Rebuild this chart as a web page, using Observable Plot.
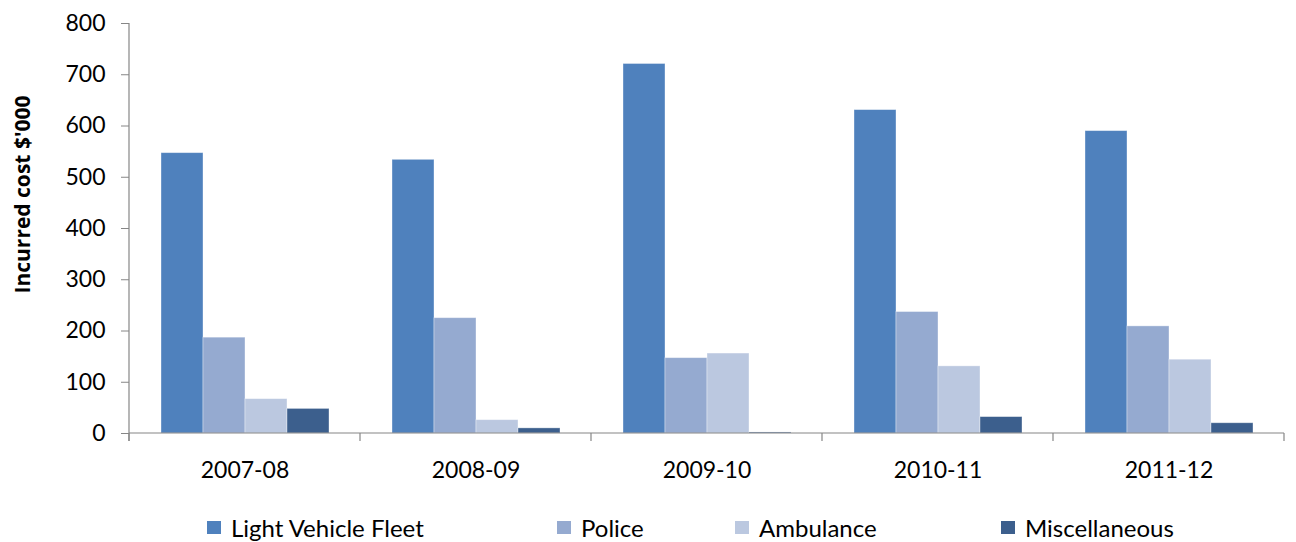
<!DOCTYPE html>
<html>
<head>
<meta charset="utf-8">
<script src="https://cdn.jsdelivr.net/npm/d3@7"></script>
<script src="https://cdn.jsdelivr.net/npm/@observablehq/plot@0.6"></script>
<style>
  html, body { margin: 0; padding: 0; background: #fff; }
  #wrap { position: relative; width: 1296px; height: 542px; font-family: Lato, "Open Sans", sans-serif; }
  #legend {
    position: absolute; left: 207px; top: 513px;
    display: flex; align-items: center; font-size: 24px; color: #000;
  }
  #legend .item { display: flex; align-items: center; white-space: nowrap; }
  #legend .swatch { width: 14px; height: 13px; margin-right: 10px; flex: none; }
</style>
</head>
<body>
<div id="wrap">
  <div id="chart"></div>
  <div id="legend"></div>
</div>
<script>
// Incurred cost ($'000) by fleet type and financial year
const years = ["2007-08", "2008-09", "2009-10", "2010-11", "2011-12"];
const series = ["Light Vehicle Fleet", "Police", "Ambulance", "Miscellaneous"];
const lightVehicleFleet = [547, 534, 721, 631, 590];
const police = [187, 225, 147, 237, 209];
const ambulance = [67, 26, 156, 131, 144];
const miscellaneous = [48, 10, 2, 32, 20];
const seriesColors = ["#4F81BD", "#95AAD0", "#BBC8E0", "#3C5F8D"];
const yTicks = [0, 100, 200, 300, 400, 500, 600, 700, 800];
const yLabel = "Incurred cost $'000";

const valuesBySeries = [lightVehicleFleet, police, ambulance, miscellaneous];
const rows = [];
years.forEach((year, i) => {
  series.forEach((s, j) => rows.push({year, series: s, value: valuesBySeries[j][i]}));
});

const axisColor = "#868686";
const legendSlots = [350, 178, 266]; // width of each legend entry's slot

// Baseline, y-axis line and the category divider ticks, drawn once over the whole frame
function frameLines(index, scales, values, dims) {
  const {fx, y} = scales;
  const left = dims.marginLeft;
  const right = dims.width - dims.marginRight;
  const y0 = y(0);
  const yTop = y(d3.max(yTicks));
  const tickLen = 8;
  const edges = years.map(d => fx(d)).concat(right);
  const g = d3.create("svg:g").attr("stroke", axisColor).attr("stroke-width", 1.2).attr("fill", "none");
  g.append("line").attr("x1", left).attr("x2", right).attr("y1", y0).attr("y2", y0);
  g.append("line").attr("x1", left).attr("x2", left).attr("y1", yTop).attr("y2", y0 + tickLen);
  for (const x of edges) {
    g.append("line").attr("x1", x).attr("x2", x).attr("y1", y0).attr("y2", y0 + tickLen);
  }
  return g.node();
}

const chart = Plot.plot({
  width: 1296,
  height: 500,
  marginTop: 23,
  marginBottom: 67,
  marginLeft: 127,
  marginRight: 10,
  style: {fontFamily: "Lato, 'Open Sans', sans-serif", color: "#000", background: "#fff"},
  fx: {domain: years, padding: 0, label: null},
  x: {domain: series, paddingInner: 0, paddingOuter: 0.74, axis: null},
  y: {domain: [0, 800], label: null},
  color: {domain: series, range: seriesColors},
  marks: [
    Plot.barY(rows, {
      fx: "year", x: "series", y: "value", fill: "series",
      stroke: "#ffffff", strokeOpacity: 0.45, strokeWidth: 0.8
    }),
    Plot.text([0], {facet: "super", frameAnchor: "middle", render: frameLines}),
    Plot.axisY({ticks: yTicks, tickSize: 8, tickPadding: 16, stroke: axisColor, fill: "#000", fontSize: 23, label: null}),
    Plot.axisFx({anchor: "bottom", tickSize: 0, tickPadding: 28, fontSize: 23, fill: "#000", label: null}),
    Plot.text([yLabel], {
      facet: "super", frameAnchor: "left", rotate: -90, text: d => d,
      dx: -106, dy: -34, fontSize: 21, fontWeight: 700, fontFamily: "'Open Sans', sans-serif",
      fill: "#000", textAnchor: "middle"
    })
  ]
});
document.getElementById("chart").appendChild(chart);

// Legend below the chart
const legend = d3.select("#legend");
series.forEach((s, i) => {
  const item = legend.append("div").attr("class", "item");
  if (i < legendSlots.length) item.style("width", legendSlots[i] + "px");
  item.append("div").attr("class", "swatch").style("background", seriesColors[i]);
  item.append("span").text(s);
});
</script>
</body>
</html>
